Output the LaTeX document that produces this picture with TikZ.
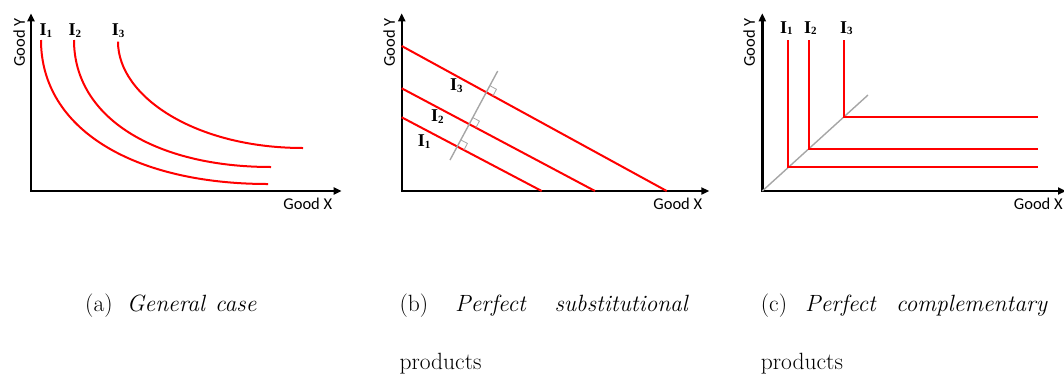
\documentclass[tikz,border=0pt]{standalone}
\usepackage{fontspec}
\newfontfamily\calfont{Carlito}
\newfontfamily\tnrfont{Liberation Serif}
\usetikzlibrary{arrows.meta,calc}
\definecolor{lgray}{RGB}{166,166,166}
\newcommand\Ilab[1]{I\raisebox{-1.6pt}{\fontsize{11}{11}\selectfont #1}}
\begin{document}
\begin{tikzpicture}[x=1pt,y=-1pt,
  axis/.style={line width=2.4pt,{Triangle[length=8pt,width=7pt]}-{Triangle[length=8pt,width=7pt]}},
  curve/.style={red,line width=2pt},
  guide/.style={lgray,line width=1.4pt},
  rightangle/.style={lgray,line width=0.8pt},
  ilabel/.style={font=\tnrfont\bfseries\fontsize{18}{18}\selectfont,anchor=base west,inner sep=0pt},
  axlabel/.style={font=\calfont\fontsize{16.5}{16.5}\selectfont,inner sep=0pt},
  caption/.style={font=\fontsize{23.5}{26}\selectfont,anchor=base west,inner sep=0pt}]
\useasboundingbox (0,0) rectangle (1064,373);

% ---------- panel (a) ----------
\coordinate (ao) at (31,191);
\coordinate (ay) at (31,13.3);
\coordinate (ax) at (341.7,191);
\draw[axis] (ay) -- (ao) -- (ax);
\node[axlabel,rotate=90] (aY) at (19.2,42.5) {Good Y};
\node[axlabel] (aX) at (307.8,204) {Good X};
\draw[curve] (41,40) .. controls (41,130) and (135,184) .. (268,184);
\draw[curve] (74,40) .. controls (74,118.6) and (156.7,167) .. (271,167);
\draw[curve] (118,41.7) .. controls (118,96.7) and (195.7,148) .. (303,148);
\node[ilabel] (aI1) at (39.3,35.7) {\Ilab{1}};
\node[ilabel] (aI2) at (68.3,35.7) {\Ilab{2}};
\node[ilabel] (aI3) at (111.7,35.7) {\Ilab{3}};

% ---------- panel (b) ----------
\coordinate (bo) at (401.7,191);
\coordinate (by) at (401.7,13.3);
\coordinate (bx) at (709.3,191);
\draw[axis] (by) -- (bo) -- (bx);
\node[axlabel,rotate=90] (bY) at (389.2,42.5) {Good Y};
\node[axlabel] (bX) at (677.8,204) {Good X};
\coordinate (b1s) at (401.7,117.3); \coordinate (b1e) at (541.7,191);
\coordinate (b2s) at (401.7,88.3);  \coordinate (b2e) at (595,191);
\coordinate (b3s) at (401.7,46);    \coordinate (b3e) at (666.7,191);
\coordinate (gb) at (450,160); \coordinate (gt) at (497.7,71);
\draw[curve] (b1s) -- (b1e);
\draw[curve] (b2s) -- (b2e);
\draw[curve] (b3s) -- (b3e);
\draw[guide] (gb) -- (gt);
\foreach \k in {1,2,3}{
  \coordinate (X\k) at (intersection of b\k s--b\k e and gb--gt);
  \coordinate (P\k) at ($(X\k)!7.5pt!(b\k e)$);
  \coordinate (Q\k) at ($(X\k)!7.5pt!(gt)$);
  \draw[rightangle] (Q\k) -- ($(P\k)+(Q\k)-(X\k)$) -- (P\k);
}
\node[ilabel] (bI3) at (450,90.7) {\Ilab{3}};
\node[ilabel] (bI2) at (431,121.7) {\Ilab{2}};
\node[ilabel] (bI1) at (417.7,146.7) {\Ilab{1}};

% ---------- panel (c) ----------
\coordinate (co) at (762.3,191);
\coordinate (cy) at (762.3,13.3);
\coordinate (cx) at (1066,191);
\draw[axis] (cy) -- (co) -- (cx);
\node[axlabel,rotate=90] (cY) at (749.2,42.5) {Good Y};
\node[axlabel] (cX) at (1038.3,204) {Good X};
\coordinate (cg) at (868,95);
\draw[guide] (co) -- (cg);
\coordinate (cr) at (1038,0);
\coordinate (c1) at (788,167);
\coordinate (c2) at (809,149);
\coordinate (c3) at (844,117);
\draw[curve] (788,40) -- (c1) -- (c1 -| cr);
\draw[curve] (809,40) -- (c2) -- (c2 -| cr);
\draw[curve] (844,40) -- (c3) -- (c3 -| cr);
\node[ilabel] (cI1) at (780,33.3) {\Ilab{1}};
\node[ilabel] (cI2) at (804,33.3) {\Ilab{2}};
\node[ilabel] (cI3) at (840,33.3) {\Ilab{3}};

% ---------- captions ----------
\node[caption] (capa1) at (85,311.7) {(a)};
\node[caption] (capa2) at (126.7,311.7) {\itshape General};
\node[caption] (capa3) at (215,311.7) {\itshape case};
\node[caption] (capb1) at (399.3,311.7) {(b)};
\node[caption] (capb2) at (455,311.7) {\itshape Perfect};
\node[caption] (capb3) at (554.3,311.7) {\itshape substitutional};
\node[caption] (capb4) at (399.3,369.5) {products};
\node[caption] (capc1) at (760.7,311.7) {(c)};
\node[caption] (capc2) at (805,311.7) {\itshape Perfect};
\node[caption] (capc3) at (896,311.7) {\itshape complementary};
\node[caption] (capc4) at (760.7,369.5) {products};
\end{tikzpicture}
\end{document}
